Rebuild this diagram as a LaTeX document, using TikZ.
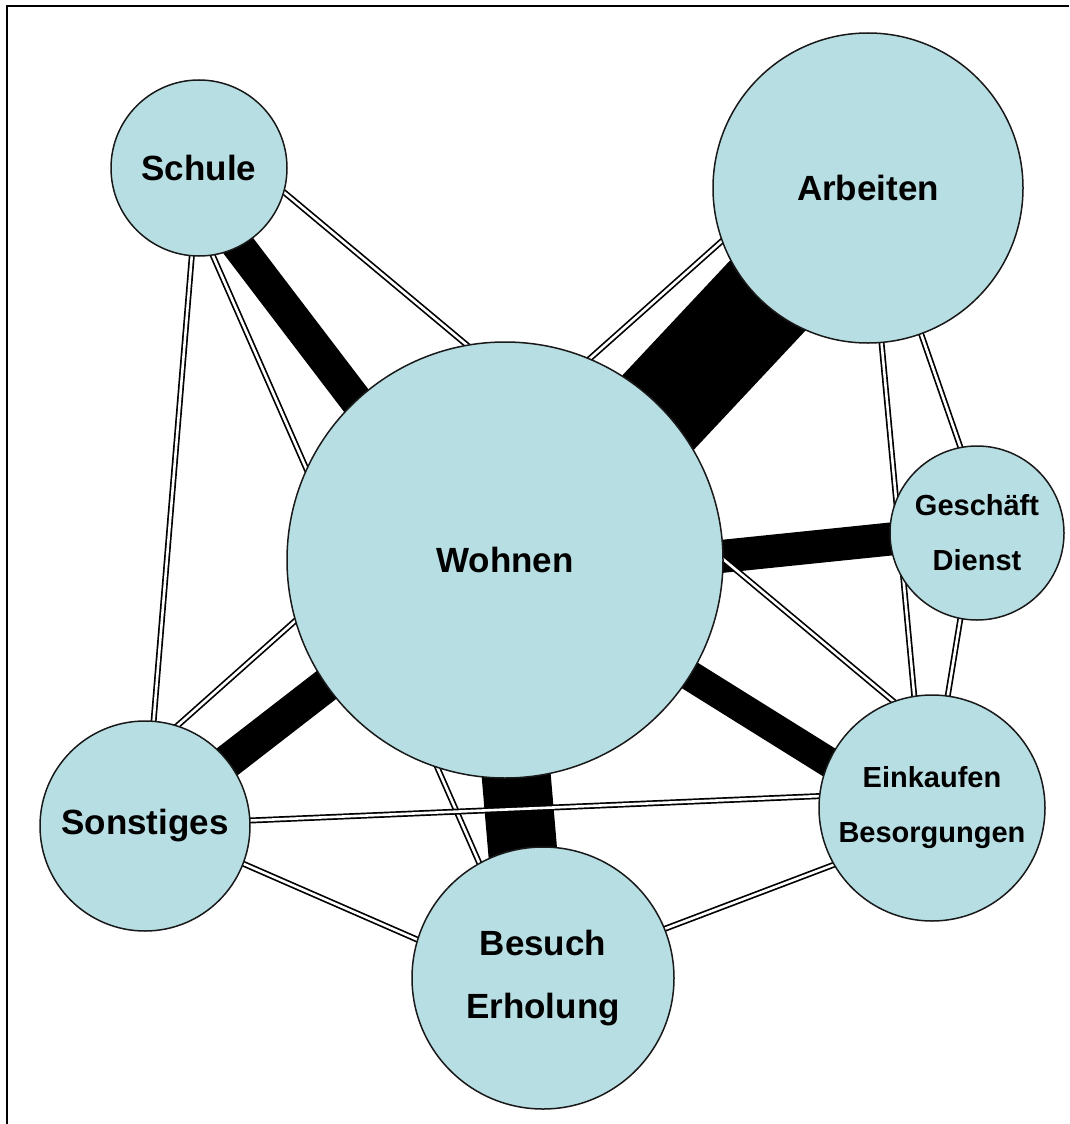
\documentclass[tikz,border=0pt]{standalone}
\usepackage{fontspec}
\setmainfont{Liberation Sans}
\usetikzlibrary{backgrounds}
\definecolor{purposefill}{RGB}{183,222,227}

\begin{document}
\begin{tikzpicture}[x=1pt, y=-1pt,
    purpose/.style={circle, draw=black!90, line width=1.5pt, fill=purposefill, inner sep=0pt,
        align=center, font=\bfseries\fontsize{35}{63}\selectfont},
    small/.style={font=\bfseries\fontsize{29}{55}\selectfont},
    heavy/.style={line width=#1, shorten <=-14pt, shorten >=-14pt},
    light/.style={double, line width=1.7pt, double distance=2.6pt, shorten <=-4pt, shorten >=-4pt}]
    \useasboundingbox (0,0) rectangle (1069,1124);

    % Frame
    \draw[line width=2pt] (7,1124) -- (7,6) -- (1069,6);

    % Purposes
    \node[purpose, minimum size=176pt] (schule) at (199,168) {Schule};
    \node[purpose, minimum size=310pt] (arbeiten) at (868,188) {Arbeiten};
    \node[purpose, minimum size=436pt] (wohnen) at (505,560) {Wohnen};
    \node[purpose, small, minimum size=174pt] (geschaeft) at (977,533) {Geschäft\\Dienst};
    \node[purpose, small, minimum size=226pt] (einkaufen) at (932,808) {Einkaufen\\Besorgungen};
    \node[purpose, minimum size=210pt] (sonstiges) at (145,826) {Sonstiges};
    \node[purpose, minimum size=262pt] (besuch) at (543,978) {Besuch\\Erholung};

    \begin{pgfonlayer}{background}
    % Heavy flows
    \draw[heavy=33pt] (schule.-63) -- (wohnen.133);
    \draw[heavy=103pt] (arbeiten.227) -- (wohnen.44);
    \draw[heavy=33pt] (wohnen.1) -- (geschaeft.184);
    \draw[heavy=30pt] (wohnen.-32) -- (einkaufen.156);
    \draw[heavy=34pt] (wohnen.215) -- (sonstiges.38);
    \draw[heavy=69pt] (wohnen.-87) -- (besuch.99.5);

    % Light flows
    \draw[light] (schule) -- (sonstiges);
    \draw[light] (schule.-81) -- (besuch.119);
    \draw[light] (schule.-16) -- (einkaufen.110);
    \draw[light] (arbeiten.200) -- (sonstiges.72);
    \draw[light] (arbeiten.-85) -- (einkaufen.99);
    \draw[light] (arbeiten.-70) -- (geschaeft.101);
    \draw[light] (geschaeft.259) -- (einkaufen.82);
    \draw[light] (sonstiges.3) -- (einkaufen.174);
    \draw[light] (sonstiges.-21) -- (besuch.163);
    \draw[light] (besuch.22) -- (einkaufen.210);
    \end{pgfonlayer}
\end{tikzpicture}
\end{document}
